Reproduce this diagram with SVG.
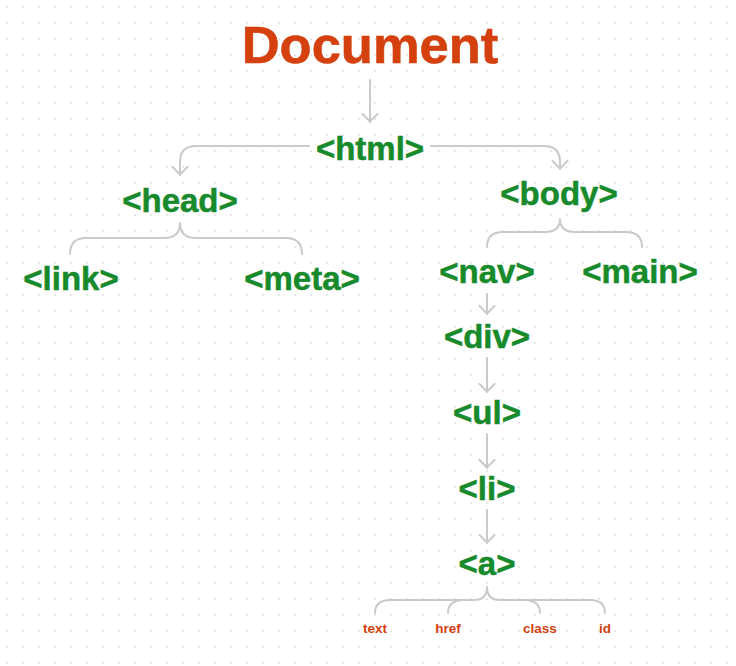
<svg xmlns="http://www.w3.org/2000/svg" width="736" height="666" viewBox="0 0 736 666">
<defs>
<pattern id="dots" x="6" y="6" width="16" height="16" patternUnits="userSpaceOnUse">
<circle cx="1" cy="1" r="0.9" fill="#dcdcdc"/>
</pattern>
<marker id="arr" viewBox="0 0 10 18" refX="9" refY="9" markerWidth="10" markerHeight="18" markerUnits="userSpaceOnUse" orient="auto">
<path d="M1,1.5 L8.5,9 L1,16.5" fill="none" stroke="#cacaca" stroke-width="2" stroke-linecap="round" stroke-linejoin="round"/>
</marker>
<style>
.tag{font-family:"Liberation Sans",Arial,sans-serif;font-weight:bold;font-size:33px;fill:#178a2c;stroke:#178a2c;stroke-width:0.5px;text-anchor:middle}
.attr{font-family:"Liberation Sans",Arial,sans-serif;font-weight:bold;font-size:13.5px;fill:#d4410f;text-anchor:middle}
.title{font-family:"Liberation Sans",Arial,sans-serif;font-weight:bold;font-size:52.5px;fill:#d4410f;stroke:#d4410f;stroke-width:0.6px;text-anchor:middle}
.c{fill:none;stroke:#cacaca;stroke-width:2;stroke-linecap:round;stroke-linejoin:round}
.ca{marker-end:url(#arr)}
</style>
</defs>
<rect width="736" height="666" fill="#ffffff"/>
<rect width="736" height="666" fill="url(#dots)"/>
<g id="connectors">
<path class="c ca" d="M370,80 L370,122"/>
<path class="c ca" d="M309,146 L196,146 Q180,146 180,162 L180,175"/>
<path class="c ca" d="M431,146 L544,146 Q560,146 560,162 L560,169"/>
<path class="c" d="M70,254 Q70,238 86,238 L164,238 Q180,238 180,223 Q180,238 196,238 L286,238 Q302,238 302,254"/>
<path class="c" d="M487,247 Q487,232 503,232 L545,232 Q560,232 560,219 Q560,232 575,232 L626,232 Q642,232 642,247"/>
<path class="c ca" d="M487,294 L487,314"/>
<path class="c ca" d="M487,358 L487,392"/>
<path class="c ca" d="M487,434 L487,468"/>
<path class="c ca" d="M487,510 L487,543"/>
<path class="c" d="M375,613 Q375,600 390,600 L474,600 Q487,600 487,587 Q487,600 500,600 L590,600 Q605,600 605,613"/>
<path class="c" d="M448,613 Q448,600 464,600"/>
<path class="c" d="M540,613 Q540,600 524,600"/>
</g>
<g id="document"><text class="title" x="370" y="63">Document</text></g>
<g id="html"><text class="tag" x="370" y="160">&lt;html&gt;</text></g>
<g id="head"><text class="tag" x="180" y="212">&lt;head&gt;</text></g>
<g id="body"><text class="tag" x="559" y="205">&lt;body&gt;</text></g>
<g id="link"><text class="tag" x="71" y="290">&lt;link&gt;</text></g>
<g id="meta"><text class="tag" x="302" y="290">&lt;meta&gt;</text></g>
<g id="nav"><text class="tag" x="487" y="283">&lt;nav&gt;</text></g>
<g id="main"><text class="tag" x="640" y="283">&lt;main&gt;</text></g>
<g id="div"><text class="tag" x="487" y="348">&lt;div&gt;</text></g>
<g id="ul"><text class="tag" x="487" y="424">&lt;ul&gt;</text></g>
<g id="li"><text class="tag" x="487" y="500">&lt;li&gt;</text></g>
<g id="a"><text class="tag" x="487" y="575">&lt;a&gt;</text></g>
<g id="text"><text class="attr" x="375" y="633">text</text></g>
<g id="href"><text class="attr" x="448" y="633">href</text></g>
<g id="class"><text class="attr" x="540" y="633">class</text></g>
<g id="id"><text class="attr" x="605" y="633">id</text></g>
</svg>
